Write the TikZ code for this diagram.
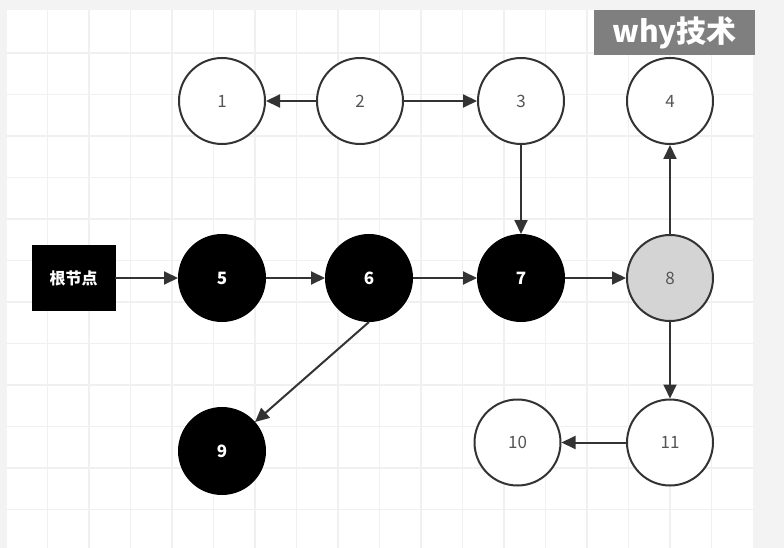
\documentclass[tikz,border=0pt]{standalone}
\usepackage{fontspec}
\setmainfont{Noto Sans CJK SC}
\usetikzlibrary{arrows.meta}
\definecolor{outerbg}{HTML}{F3F3F3}
\definecolor{gridmajor}{HTML}{F0F0F0}
\definecolor{edgec}{HTML}{333333}
\definecolor{numc}{HTML}{555555}
\definecolor{hl}{HTML}{D4D4D4}
\definecolor{wm}{HTML}{7F7F7F}
\tikzset{
  wnode/.style={circle, draw=edgec, line width=2pt, fill=white, minimum size=86pt, inner sep=0pt, text=numc, font=\fontsize{17}{17}\selectfont},
  bnode/.style={circle, draw=black, line width=2pt, fill=black, minimum size=86pt, inner sep=0pt, text=white, font=\fontsize{17}{17}\selectfont\bfseries},
  gnode/.style={wnode, fill=hl},
  rootbox/.style={rectangle, draw=black, fill=black, minimum width=83pt, minimum height=65pt, inner sep=0pt, text=white, font=\fontsize{16}{16}\selectfont\bfseries},
  conn/.style={draw=edgec, line width=2pt, -{Triangle[length=14pt,width=13pt]}},
  wmbox/.style={rectangle, fill=wm, minimum width=161pt, minimum height=45pt, inner sep=0pt, text=white, font=\fontsize{30}{30}\selectfont\bfseries}
}
\begin{document}
\begin{tikzpicture}[x=1pt,y=-1pt]
\useasboundingbox (0,0) rectangle (784,548);
\fill[outerbg] (0,0) rectangle (784,548);
\fill[white] (7,10) rectangle (753,548);
\foreach \i in {1,...,17} {
  \draw[gridmajor, line width=1.5pt] ({6+41.5*\i},10) -- ({6+41.5*\i},548);
}
\foreach \j in {1,...,12} {
  \draw[gridmajor, line width=1.5pt] (7,{11.5+41.5*\j}) -- (753,{11.5+41.5*\j});
}

\node[wmbox] (wm) at (674.5,32.5) {why技术};

\node[wnode] (n1) at (222,101) {1};
\node[wnode] (n2) at (360,101) {2};
\node[wnode] (n3) at (521,101) {3};
\node[wnode] (n4) at (670,101) {4};

\node[rootbox] (root) at (73.5,278) {根节点};
\node[bnode] (n5) at (222,278) {5};
\node[bnode] (n6) at (369,278) {6};
\node[bnode] (n7) at (521,278) {7};
\node[gnode] (n8) at (670,278) {8};

\node[bnode] (n9) at (222,451) {9};
\node[wnode] (n10) at (517.5,442.5) {10};
\node[wnode] (n11) at (670,442.5) {11};

\draw[conn] (n2) -- (n1);
\draw[conn] (n2) -- (n3);
\draw[conn] (n3) -- (n7);
\draw[conn] (root) -- (n5);
\draw[conn] (n5) -- (n6);
\draw[conn] (n6) -- (n7);
\draw[conn] (n7) -- (n8);
\draw[conn] (n8) -- (n4);
\draw[conn] (n8) -- (n11);
\draw[conn] (n11) -- (n10);
\draw[conn] (n6.south) -- (n9);
\end{tikzpicture}
\end{document}
